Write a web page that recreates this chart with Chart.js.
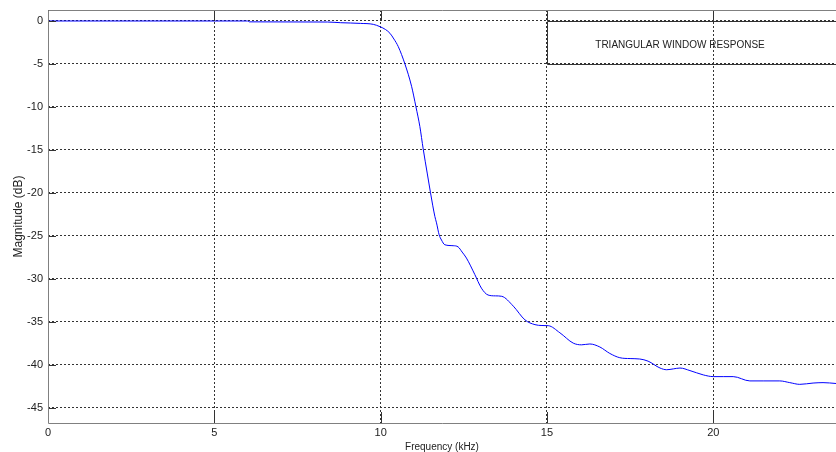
<!DOCTYPE html>
<html>
<head>
<meta charset="utf-8">
<script src="https://cdn.jsdelivr.net/npm/chart.js@4/dist/chart.umd.min.js"></script>
<style>
  html, body { margin: 0; padding: 0; background: white; }
  canvas { display: block; }
</style>
</head>
<body>
<canvas id="chart" width="836" height="452"></canvas>
<script>
// frequency response (kHz, dB)
const freq = [0, 6.0, 6.05, 8.4, 8.8, 9.4, 9.78, 9.98, 10.15, 10.28, 10.4, 10.53, 10.73, 10.93, 11.06,
  11.18, 11.28, 11.4, 11.5, 11.63, 11.68, 11.76, 11.83, 11.93, 12.18, 12.33, 12.45, 12.58, 12.83,
  13.03, 13.23, 13.45, 13.64, 13.99, 14.34, 14.64, 14.85, 15.04, 15.39, 15.79, 16.04, 16.29, 16.59,
  16.89, 17.19, 17.5, 17.79, 18.04, 18.4, 18.6, 18.8, 19.0, 19.3, 19.7, 20.0, 20.3, 20.6, 21.1,
  21.5, 22.0, 22.3, 22.6, 23.0, 23.3, 23.69];
const magnitude = [0, 0, -0.1, -0.12, -0.2, -0.28, -0.39, -0.66, -1.0, -1.43, -2.1, -2.98, -5.0, -7.6, -9.96,
  -12.3, -14.9, -17.7, -20.0, -22.75, -23.5, -24.9, -25.5, -26.05, -26.16, -26.3, -26.9, -27.6, -29.5,
  -31.1, -31.9, -32.0, -32.05, -33.2, -34.8, -35.35, -35.45, -35.47, -36.3, -37.5, -37.7, -37.6, -37.95,
  -38.7, -39.2, -39.3, -39.35, -39.6, -40.4, -40.6, -40.5, -40.4, -40.7, -41.2, -41.4, -41.4, -41.4, -41.9,
  -41.9, -41.9, -42.1, -42.3, -42.15, -42.1, -42.2];

const xTicks = [0, 5, 10, 15, 20];
const yTicks = [0, -5, -10, -15, -20, -25, -30, -35, -40, -45];

const legendText = 'TRIANGULAR WINDOW RESPONSE';

const framecolor = '#808080';
const gridcolor = '#333333';
const tickcolor = '#333333';
const textcolor = '#222222';

Chart.defaults.font.family = '"Liberation Sans", Arial, sans-serif';
Chart.defaults.color = textcolor;

const axesframe = {
  id: 'axesframe',
  afterDatasetsDraw: (chart) => {
    const ctx = chart.ctx;
    const area = chart.chartArea;
    const sx = chart.scales.x;
    const sy = chart.scales.y;

    ctx.save();

    // legend box
    const bx = Math.round(sx.getPixelForValue(15)) + 0.5;
    const by0 = Math.round(sy.getPixelForValue(0)) + 0.5;
    const by1 = Math.round(sy.getPixelForValue(-5)) + 0.5;
    ctx.strokeStyle = '#333333';
    ctx.lineWidth = 1;
    ctx.beginPath();
    ctx.moveTo(area.right + 2, by0);
    ctx.lineTo(bx, by0);
    ctx.lineTo(bx, by1);
    ctx.lineTo(area.right + 2, by1);
    ctx.stroke();

    ctx.font = `10px ${Chart.defaults.font.family}`;
    ctx.fillStyle = textcolor;
    ctx.textAlign = 'center';
    ctx.textBaseline = 'middle';
    ctx.fillText(legendText, sx.getPixelForValue(19.0), sy.getPixelForValue(-2.8));

    // inward ticks
    ctx.strokeStyle = tickcolor;
    ctx.beginPath();
    xTicks.forEach(v => {
      const px = Math.round(sx.getPixelForValue(v)) + 0.5;
      ctx.moveTo(px, area.bottom);
      ctx.lineTo(px, area.bottom - 11);
      ctx.moveTo(px, area.top);
      ctx.lineTo(px, area.top + 11);
    });
    yTicks.forEach(v => {
      const py = Math.round(sy.getPixelForValue(v)) + 0.5;
      ctx.moveTo(area.left, py);
      ctx.lineTo(area.left + 8, py);
    });
    ctx.stroke();

    // frame (right side falls outside the picture)
    ctx.strokeStyle = framecolor;
    ctx.beginPath();
    ctx.moveTo(area.right + 2, Math.round(area.top) + 0.5);
    ctx.lineTo(Math.round(area.left) + 0.5, Math.round(area.top) + 0.5);
    ctx.lineTo(Math.round(area.left) + 0.5, Math.round(area.bottom) + 0.5);
    ctx.lineTo(area.right + 2, Math.round(area.bottom) + 0.5);
    ctx.stroke();

    ctx.restore();
  },
};

new Chart(document.getElementById('chart').getContext('2d'), {
  type: 'line',
  data: {
    datasets: [{
      data: freq.map((f, i) => ({ x: f, y: magnitude[i] })),
      borderColor: '#0000ff',
      borderWidth: 1,
      pointRadius: 0,
      fill: false,
      cubicInterpolationMode: 'monotone',
    }],
  },
  options: {
    responsive: false,
    animation: false,
    layout: { padding: { top: 10, left: 0, right: 0, bottom: 0 } },
    plugins: {
      legend: { display: false },
      tooltip: { enabled: false },
    },
    scales: {
      x: {
        type: 'linear',
        min: 0,
        max: 23.69,
        afterBuildTicks: (scale) => { scale.ticks = xTicks.map(v => ({ value: v })); },
        afterFit: (scale) => {
          scale.height = 29;
          scale.paddingLeft = 0;
          scale.paddingRight = 0;
        },
        ticks: {
          autoSkip: false,
          maxRotation: 0,
          padding: 3,
          font: { size: 11 },
          color: textcolor,
        },
        grid: { color: gridcolor, drawTicks: false, lineWidth: 1 },
        border: { display: false, dash: [2, 2] },
        title: {
          display: true,
          text: 'Frequency (kHz)',
          font: { size: 10, lineHeight: 1 },
          padding: { top: 0, bottom: 0 },
          color: textcolor,
        },
      },
      y: {
        type: 'linear',
        min: -46.8,
        max: 1.28,
        afterBuildTicks: (scale) => { scale.ticks = yTicks.map(v => ({ value: v })); },
        afterFit: (scale) => {
          scale.width = 48;
          scale.paddingTop = 0;
          scale.paddingBottom = 0;
        },
        ticks: {
          autoSkip: false,
          padding: 5,
          font: { size: 11 },
          color: textcolor,
        },
        grid: { color: gridcolor, drawTicks: false, lineWidth: 1 },
        border: { display: false, dash: [2, 2] },
        title: {
          display: true,
          text: 'Magnitude (dB)',
          font: { size: 12 },
          padding: { top: 11, bottom: 0 },
          color: textcolor,
        },
      },
    },
  },
  plugins: [axesframe],
});
</script>
</body>
</html>
